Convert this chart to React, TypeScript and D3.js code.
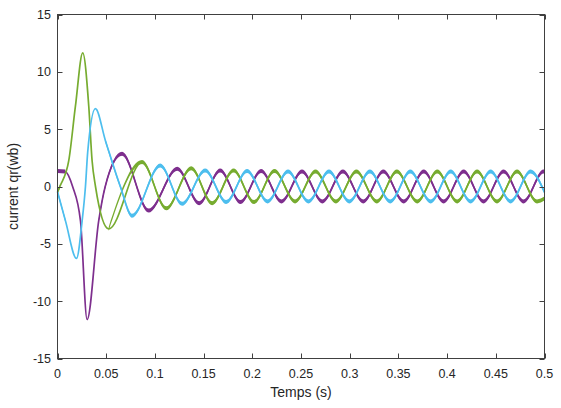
import * as d3 from "d3";

// Courants rotoriques (3 phases) : on relève les extrema sur l'image, la courbe
// monotone (d3.curveMonotoneX) les relie. Couleurs MATLAB 4, 5, 6.

const W = 561;
const H = 408;
const PLOT = { left: 57.5, right: 544.5, top: 14.5, bottom: 358.5 };

const xTicks = [0, 0.05, 0.1, 0.15, 0.2, 0.25, 0.3, 0.35, 0.4, 0.45, 0.5];
const yTicks = [-15, -10, -5, 0, 5, 10, 15];

const purpleT = [
  0, 0.008, 0.0155, 0.0236, 0.0304, 0.0423, 0.049, 0.0663, 0.0936, 0.123, 0.1455,
  0.167, 0.188, 0.209, 0.23, 0.251, 0.272, 0.293, 0.314, 0.3345, 0.3555, 0.376,
  0.3965, 0.417, 0.4375, 0.458, 0.4785, 0.499, 0.5,
];
const purpleV = [
  1.35, 1.3, 0, -3, -11.6, -3, 0, 2.86, -2.1, 1.55, -1.45,
  1.4, -1.35, 1.35, -1.3, 1.3, -1.3, 1.3, -1.3, 1.3, -1.3, 1.3,
  -1.3, 1.3, -1.3, 1.3, -1.3, 1.3, 1.28,
];

const greenT = [
  0, 0.0024, 0.0116, 0.0184, 0.0259, 0.0321, 0.0355, 0.039, 0.0526, 0.0868, 0.1117,
  0.1373, 0.1588, 0.1808, 0.2018, 0.2228, 0.2439, 0.2649, 0.2859, 0.3069, 0.3279,
  0.3484, 0.3694, 0.3899, 0.4104, 0.4308, 0.4513, 0.4718, 0.4923, 0.5,
];
const greenV = [
  -0.5, 0, 2.27, 7, 11.66, 7, 2.27, 0, -3.7, 2.13, -1.9,
  1.6, -1.45, 1.4, -1.35, 1.35, -1.3, 1.3, -1.3, 1.3, -1.3,
  1.3, -1.3, 1.3, -1.3, 1.3, -1.3, 1.3, -1.3, -1.05,
];

const cyanT = [
  0, 0.0082, 0.0195, 0.0253, 0.0287, 0.031, 0.0389, 0.0492, 0.0645, 0.0765, 0.1055,
  0.128, 0.1516, 0.1732, 0.1947, 0.2157, 0.2367, 0.2577, 0.2787, 0.2997, 0.3207,
  0.3417, 0.3622, 0.3832, 0.4037, 0.4242, 0.4447, 0.4652, 0.4857, 0.5,
];
const cyanV = [
  -0.45, -3, -6.27, -3, 0, 3, 6.8, 4.0, 0, -2.54, 1.84,
  -1.5, 1.4, -1.35, 1.35, -1.3, 1.3, -1.3, 1.3, -1.3, 1.3,
  -1.3, 1.3, -1.3, 1.3, -1.3, 1.3, -1.3, 1.3, -0.5,
];

const series = [
  { name: "purple", color: "#7E2F8E", t: purpleT, v: purpleV },
  { name: "green", color: "#77AC30", t: greenT, v: greenV },
  { name: "cyan", color: "#4DBEEE", t: cyanT, v: cyanV },
];

const AXIS = "#404040";
const TEXT = "#262626";
const FONT = "'Liberation Sans', Arial, Helvetica, sans-serif";

export default function App() {
  const x = d3.scaleLinear().domain([0, 0.5]).range([PLOT.left, PLOT.right]);
  const y = d3.scaleLinear().domain([-15, 15]).range([PLOT.bottom, PLOT.top]);

  const line = d3
    .line<[number, number]>()
    .x((d) => x(d[0]))
    .y((d) => y(d[1]))
    .curve(d3.curveMonotoneX);

  // bande verticale : ondulation HF qui épaissit le tracé hors du transitoire
  const band = d3
    .area<[number, number]>()
    .defined((d) => d[0] < 0.009 || d[0] > 0.042)
    .x((d) => x(d[0]))
    .y0((d) => y(d[1]) - 2)
    .y1((d) => y(d[1]) + 2)
    .curve(d3.curveMonotoneX);

  return (
    <svg
      width={W}
      height={H}
      style={{ position: "fixed", left: 0, top: 0, background: "#fff" }}
      fontFamily={FONT}
    >
      <rect x={0} y={0} width={W} height={H} fill="#fff" />

      {series.map((s) => {
        const pts = s.t.map((t, i) => [t, s.v[i]] as [number, number]);
        return (
          <g key={s.name}>
            <path d={band(pts) ?? ""} fill={s.color} />
            <path d={line(pts) ?? ""} fill="none" stroke={s.color} strokeWidth={1.7} />
          </g>
        );
      })}

      {/* cadre */}
      <rect
        x={PLOT.left}
        y={PLOT.top}
        width={PLOT.right - PLOT.left}
        height={PLOT.bottom - PLOT.top}
        fill="none"
        stroke={AXIS}
        strokeWidth={1}
      />

      {/* ticks X (vers l'intérieur, haut et bas) */}
      {xTicks.map((t) => (
        <g key={"x" + t}>
          <line x1={Math.round(x(t)) + 0.5} x2={Math.round(x(t)) + 0.5} y1={PLOT.bottom} y2={PLOT.bottom - 5} stroke={AXIS} />
          <line x1={Math.round(x(t)) + 0.5} x2={Math.round(x(t)) + 0.5} y1={PLOT.top} y2={PLOT.top + 5} stroke={AXIS} />
          <text x={x(t)} y={378} textAnchor="middle" fontSize={12.5} fill={TEXT}>
            {String(t)}
          </text>
        </g>
      ))}

      {/* ticks Y */}
      {yTicks.map((v) => (
        <g key={"y" + v}>
          <line x1={PLOT.left} x2={PLOT.left + 5} y1={Math.round(y(v)) + 0.5} y2={Math.round(y(v)) + 0.5} stroke={AXIS} />
          <line x1={PLOT.right} x2={PLOT.right - 5} y1={Math.round(y(v)) + 0.5} y2={Math.round(y(v)) + 0.5} stroke={AXIS} />
          <text x={51} y={y(v) + 4.5} textAnchor="end" fontSize={12.5} fill={TEXT}>
            {String(v)}
          </text>
        </g>
      ))}

      <text x={(PLOT.left + PLOT.right) / 2} y={397} textAnchor="middle" fontSize={14} fill={TEXT}>
        Temps (s)
      </text>
      <text
        transform={`translate(18,${(PLOT.top + PLOT.bottom) / 2}) rotate(-90)`}
        textAnchor="middle"
        fontSize={14}
        fill={TEXT}
      >
        current qr(wb)
      </text>
    </svg>
  );
}
